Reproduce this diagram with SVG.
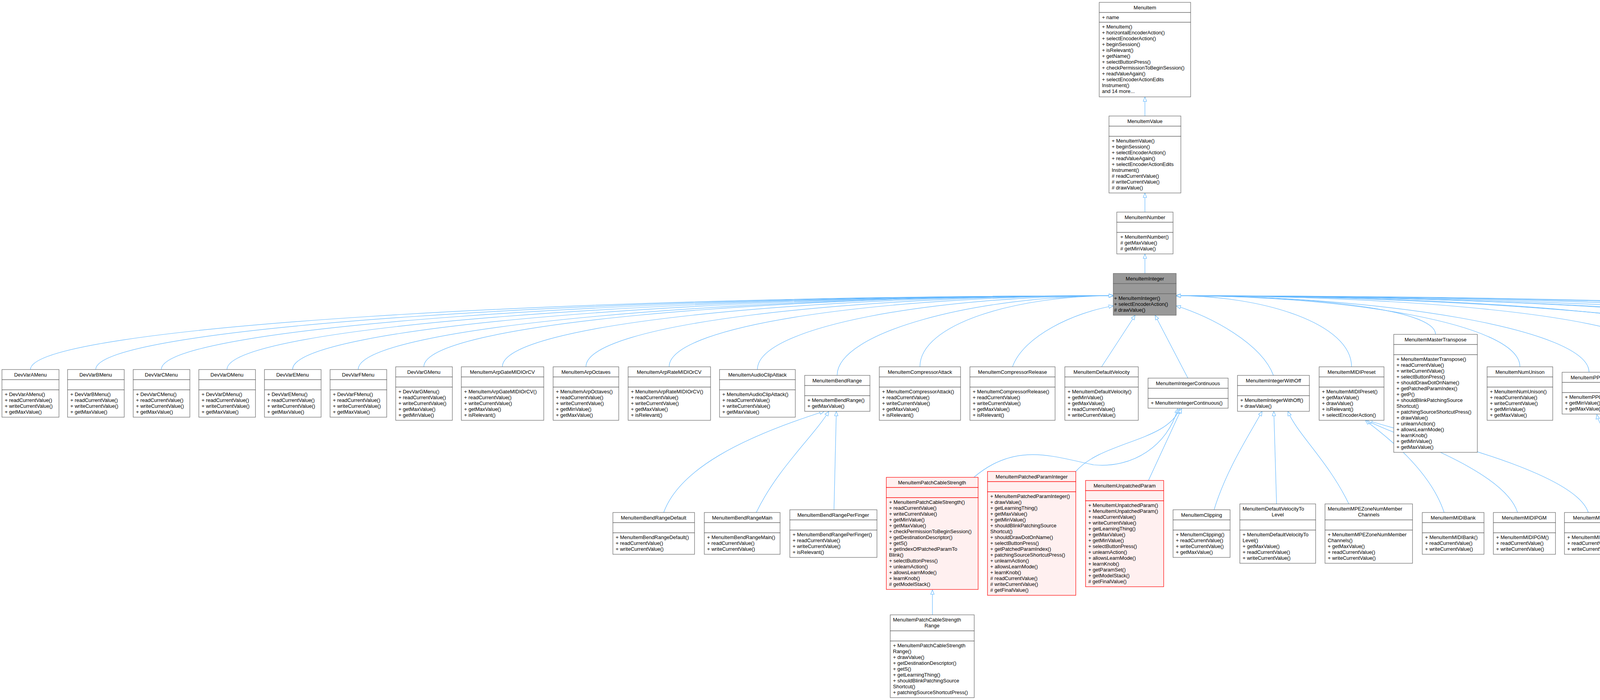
<svg xmlns="http://www.w3.org/2000/svg" width="6055" height="1792" viewBox="0 0 6055 1792">
<style>
.b{fill:#fff;stroke:#666;stroke-width:1.2}
.g{fill:#999;stroke:#666;stroke-width:1.2}
.r{fill:#fff0f0;stroke:#f00;stroke-width:1.2}
.t{font-family:"Liberation Sans",Arial,sans-serif;font-size:13px;fill:#000}
.c{text-anchor:middle}
.e{fill:none;stroke:#63b8ff;stroke-width:1.2;marker-end:url(#a)}
</style>
<defs>
<marker id="a" viewBox="0 0 12 10" markerWidth="12" markerHeight="10" refX="12" refY="5" orient="auto" markerUnits="userSpaceOnUse"><path d="M0.5,0.5 L12,5 L0.5,9.5 z" fill="#fff" stroke="#63b8ff" stroke-width="1.2"/></marker>
</defs>
<rect width="6055" height="1792" fill="#fff"/>
<g id="edges">
<path class="e" d="M2931,297 L2931,248"/>
<path class="e" d="M2931,543 L2931,494"/>
<path class="e" d="M2931,700 L2931,650"/>
<path class="e" d="M78,946 C78,836 1464,757 2850,757"/>
<path class="e" d="M245,946 C245,836 1548,757 2850,757"/>
<path class="e" d="M413,946 C413,836 1632,757 2850,757"/>
<path class="e" d="M581,946 C581,836 1716,757 2850,757"/>
<path class="e" d="M749,946 C749,836 1800,757 2850,757"/>
<path class="e" d="M917,946 C917,836 1884,757 2850,757"/>
<path class="e" d="M1085,939 C1085,829 1968,757 2850,757"/>
<path class="e" d="M1286,939 C1286,829 2068,757 2850,757"/>
<path class="e" d="M1500,939 C1500,829 2175,757 2850,757"/>
<path class="e" d="M1713,939 C1713,829 2282,757 2850,757"/>
<path class="e" d="M1939,946 C1939,836 2395,757 2850,757"/>
<path class="e" d="M2143,961 C2143,851 2497,757 2850,757"/>
<path class="e" d="M2355,939 C2355,829 2602,757 2850,757"/>
<path class="e" d="M2592,939 C2620,860 2750,800 2850,783"/>
<path class="e" d="M2820,939 L2906,807"/>
<path class="e" d="M3041,968 L2957,807"/>
<path class="e" d="M3260,961 C3230,880 3100,810 3011,783"/>
<path class="e" d="M3460,939 C3460,829 3236,757 3011,757"/>
<path class="e" d="M3675,856 C3675,790 3343,757 3011,757"/>
<path class="e" d="M3891,939 C3891,829 3451,757 3011,757"/>
<path class="e" d="M4068,953 C4068,843 3540,757 3011,757"/>
<path class="e" d="M4262,923 C4262,813 3637,757 3011,757"/>
<path class="e" d="M4490,916 C4490,806 3751,757 3011,757"/>
<path class="e" d="M4719,946 C4719,836 3865,757 3011,757"/>
<path class="e" d="M4929,931 C4929,821 3970,757 3011,757"/>
<path class="e" d="M5137,946 C5137,836 4074,757 3011,757"/>
<path class="e" d="M5350,946 C5350,836 4181,757 3011,757"/>
<path class="e" d="M5557,939 C5557,829 4284,757 3011,757"/>
<path class="e" d="M5761,923 C5761,813 4386,757 3011,757"/>
<path class="e" d="M5962,946 C5962,836 4487,757 3011,757"/>
<path class="e" d="M1699,1312 C1740,1200 1900,1120 2110,1053"/>
<path class="e" d="M1936,1312 C1990,1200 2080,1120 2122,1053"/>
<path class="e" d="M2135,1305 L2141,1053"/>
<path class="e" d="M2493,1222 C2600,1130 2700,1170 2800,1190 C2900,1200 2990,1140 3015,1046"/>
<path class="e" d="M2754,1207 C2820,1130 2990,1130 3020,1046"/>
<path class="e" d="M2940,1230 L3025,1046"/>
<path class="e" d="M3108,1305 C3140,1200 3200,1110 3231,1053"/>
<path class="e" d="M3268,1290 L3261,1053"/>
<path class="e" d="M3453,1290 C3400,1180 3320,1110 3297,1053"/>
<path class="e" d="M3697,1312 C3660,1200 3540,1110 3495,1076"/>
<path class="e" d="M3885,1312 C3850,1200 3560,1110 3498,1076"/>
<path class="e" d="M4066,1312 C4030,1200 3600,1110 3501,1076"/>
<path class="e" d="M4241,1312 C4200,1200 4100,1120 4088,1061"/>
<path class="e" d="M4469,1312 C4420,1200 4120,1120 4098,1061"/>
<path class="e" d="M2387,1574 L2387,1510"/>
</g>

<g id="MenuItem"><rect class="b" x="2814" y="6" width="234" height="26"/><rect class="b" x="2814" y="32" width="234" height="25"/><rect class="b" x="2814" y="57" width="234" height="191"/>
<text class="t c" x="2931" y="24">MenuItem</text><text class="t" x="2821" y="49">+ name</text>
<text class="t" x="2821" y="73"><tspan x="2821">+ MenuItem()</tspan><tspan x="2821" dy="15">+ horizontalEncoderAction()</tspan><tspan x="2821" dy="15">+ selectEncoderAction()</tspan><tspan x="2821" dy="15">+ beginSession()</tspan><tspan x="2821" dy="15">+ isRelevant()</tspan><tspan x="2821" dy="15">+ getName()</tspan><tspan x="2821" dy="15">+ selectButtonPress()</tspan><tspan x="2821" dy="15">+ checkPermissionToBeginSession()</tspan><tspan x="2821" dy="15">+ readValueAgain()</tspan><tspan x="2821" dy="15">+ selectEncoderActionEdits</tspan><tspan x="2821" dy="15">Instrument()</tspan><tspan x="2821" dy="15">and 14 more...</tspan></text></g>

<g id="MenuItemValue"><rect class="b" x="2839" y="297" width="184" height="26"/><rect class="b" x="2839" y="323" width="184" height="26"/><rect class="b" x="2839" y="349" width="184" height="145"/>
<text class="t c" x="2931" y="315">MenuItemValue</text>
<text class="t" x="2846" y="365"><tspan x="2846">+ MenuItemValue()</tspan><tspan x="2846" dy="15">+ beginSession()</tspan><tspan x="2846" dy="15">+ selectEncoderAction()</tspan><tspan x="2846" dy="15">+ readValueAgain()</tspan><tspan x="2846" dy="15">+ selectEncoderActionEdits</tspan><tspan x="2846" dy="15">Instrument()</tspan><tspan x="2846" dy="15"># readCurrentValue()</tspan><tspan x="2846" dy="15"># writeCurrentValue()</tspan><tspan x="2846" dy="15"># drawValue()</tspan></text></g>

<g id="MenuItemNumber"><rect class="b" x="2859" y="543" width="144" height="26"/><rect class="b" x="2859" y="569" width="144" height="26"/><rect class="b" x="2859" y="595" width="144" height="55"/>
<text class="t c" x="2931" y="561">MenuItemNumber</text>
<text class="t" x="2868" y="611"><tspan x="2868">+ MenuItemNumber()</tspan><tspan x="2868" dy="15"># getMaxValue()</tspan><tspan x="2868" dy="15"># getMinValue()</tspan></text></g>

<g id="MenuItemInteger"><rect class="g" x="2850" y="700" width="161" height="26"/><rect class="g" x="2850" y="726" width="161" height="26"/><rect class="g" x="2850" y="752" width="161" height="55"/>
<text class="t c" x="2931" y="718">MenuItemInteger</text>
<text class="t" x="2852" y="768"><tspan x="2852">+ MenuItemInteger()</tspan><tspan x="2852" dy="15">+ selectEncoderAction()</tspan><tspan x="2852" dy="15"># drawValue()</tspan></text></g>

<g id="DevVarAMenu"><rect class="b" x="5" y="946" width="146" height="26"/><rect class="b" x="5" y="972" width="146" height="26"/><rect class="b" x="5" y="998" width="146" height="70"/><text class="t c" x="78" y="964">DevVarAMenu</text><text class="t" x="12" y="1014"><tspan x="12">+ DevVarAMenu()</tspan><tspan x="12" dy="15">+ readCurrentValue()</tspan><tspan x="12" dy="15">+ writeCurrentValue()</tspan><tspan x="12" dy="15">+ getMaxValue()</tspan></text></g>
<g id="DevVarBMenu"><rect class="b" x="173" y="946" width="145" height="26"/><rect class="b" x="173" y="972" width="145" height="26"/><rect class="b" x="173" y="998" width="145" height="70"/><text class="t c" x="245" y="964">DevVarBMenu</text><text class="t" x="180" y="1014"><tspan x="180">+ DevVarBMenu()</tspan><tspan x="180" dy="15">+ readCurrentValue()</tspan><tspan x="180" dy="15">+ writeCurrentValue()</tspan><tspan x="180" dy="15">+ getMaxValue()</tspan></text></g>
<g id="DevVarCMenu"><rect class="b" x="341" y="946" width="145" height="26"/><rect class="b" x="341" y="972" width="145" height="26"/><rect class="b" x="341" y="998" width="145" height="70"/><text class="t c" x="413" y="964">DevVarCMenu</text><text class="t" x="348" y="1014"><tspan x="348">+ DevVarCMenu()</tspan><tspan x="348" dy="15">+ readCurrentValue()</tspan><tspan x="348" dy="15">+ writeCurrentValue()</tspan><tspan x="348" dy="15">+ getMaxValue()</tspan></text></g>
<g id="DevVarDMenu"><rect class="b" x="509" y="946" width="145" height="26"/><rect class="b" x="509" y="972" width="145" height="26"/><rect class="b" x="509" y="998" width="145" height="70"/><text class="t c" x="581" y="964">DevVarDMenu</text><text class="t" x="516" y="1014"><tspan x="516">+ DevVarDMenu()</tspan><tspan x="516" dy="15">+ readCurrentValue()</tspan><tspan x="516" dy="15">+ writeCurrentValue()</tspan><tspan x="516" dy="15">+ getMaxValue()</tspan></text></g>
<g id="DevVarEMenu"><rect class="b" x="677" y="946" width="145" height="26"/><rect class="b" x="677" y="972" width="145" height="26"/><rect class="b" x="677" y="998" width="145" height="70"/><text class="t c" x="749" y="964">DevVarEMenu</text><text class="t" x="684" y="1014"><tspan x="684">+ DevVarEMenu()</tspan><tspan x="684" dy="15">+ readCurrentValue()</tspan><tspan x="684" dy="15">+ writeCurrentValue()</tspan><tspan x="684" dy="15">+ getMaxValue()</tspan></text></g>
<g id="DevVarFMenu"><rect class="b" x="845" y="946" width="145" height="26"/><rect class="b" x="845" y="972" width="145" height="26"/><rect class="b" x="845" y="998" width="145" height="70"/><text class="t c" x="917" y="964">DevVarFMenu</text><text class="t" x="852" y="1014"><tspan x="852">+ DevVarFMenu()</tspan><tspan x="852" dy="15">+ readCurrentValue()</tspan><tspan x="852" dy="15">+ writeCurrentValue()</tspan><tspan x="852" dy="15">+ getMaxValue()</tspan></text></g>
<g id="DevVarGMenu"><rect class="b" x="1013" y="939" width="145" height="26"/><rect class="b" x="1013" y="965" width="145" height="26"/><rect class="b" x="1013" y="991" width="145" height="85"/><text class="t c" x="1085" y="957">DevVarGMenu</text><text class="t" x="1020" y="1007"><tspan x="1020">+ DevVarGMenu()</tspan><tspan x="1020" dy="15">+ readCurrentValue()</tspan><tspan x="1020" dy="15">+ writeCurrentValue()</tspan><tspan x="1020" dy="15">+ getMaxValue()</tspan><tspan x="1020" dy="15">+ getMinValue()</tspan></text></g>
<g id="MenuItemArpGateMIDIOrCV"><rect class="b" x="1181" y="939" width="211" height="26"/><rect class="b" x="1181" y="965" width="211" height="26"/><rect class="b" x="1181" y="991" width="211" height="85"/><text class="t c" x="1286" y="957">MenuItemArpGateMIDIOrCV</text><text class="t" x="1188" y="1007"><tspan x="1188">+ MenuItemArpGateMIDIOrCV()</tspan><tspan x="1188" dy="15">+ readCurrentValue()</tspan><tspan x="1188" dy="15">+ writeCurrentValue()</tspan><tspan x="1188" dy="15">+ getMaxValue()</tspan><tspan x="1188" dy="15">+ isRelevant()</tspan></text></g>
<g id="MenuItemArpOctaves"><rect class="b" x="1416" y="939" width="168" height="26"/><rect class="b" x="1416" y="965" width="168" height="26"/><rect class="b" x="1416" y="991" width="168" height="85"/><text class="t c" x="1500" y="957">MenuItemArpOctaves</text><text class="t" x="1423" y="1007"><tspan x="1423">+ MenuItemArpOctaves()</tspan><tspan x="1423" dy="15">+ readCurrentValue()</tspan><tspan x="1423" dy="15">+ writeCurrentValue()</tspan><tspan x="1423" dy="15">+ getMinValue()</tspan><tspan x="1423" dy="15">+ getMaxValue()</tspan></text></g>
<g id="MenuItemArpRateMIDIOrCV"><rect class="b" x="1608" y="939" width="211" height="26"/><rect class="b" x="1608" y="965" width="211" height="26"/><rect class="b" x="1608" y="991" width="211" height="85"/><text class="t c" x="1713" y="957">MenuItemArpRateMIDIOrCV</text><text class="t" x="1615" y="1007"><tspan x="1615">+ MenuItemArpRateMIDIOrCV()</tspan><tspan x="1615" dy="15">+ readCurrentValue()</tspan><tspan x="1615" dy="15">+ writeCurrentValue()</tspan><tspan x="1615" dy="15">+ getMaxValue()</tspan><tspan x="1615" dy="15">+ isRelevant()</tspan></text></g>
<g id="MenuItemAudioClipAttack"><rect class="b" x="1842" y="946" width="194" height="26"/><rect class="b" x="1842" y="972" width="194" height="26"/><rect class="b" x="1842" y="998" width="194" height="70"/><text class="t c" x="1939" y="964">MenuItemAudioClipAttack</text><text class="t" x="1849" y="1014"><tspan x="1849">+ MenuItemAudioClipAttack()</tspan><tspan x="1849" dy="15">+ readCurrentValue()</tspan><tspan x="1849" dy="15">+ writeCurrentValue()</tspan><tspan x="1849" dy="15">+ getMaxValue()</tspan></text></g>
<g id="MenuItemBendRange"><rect class="b" x="2060" y="961" width="167" height="26"/><rect class="b" x="2060" y="987" width="167" height="26"/><rect class="b" x="2060" y="1013" width="167" height="40"/><text class="t c" x="2143" y="979">MenuItemBendRange</text><text class="t" x="2067" y="1029"><tspan x="2067">+ MenuItemBendRange()</tspan><tspan x="2067" dy="15">+ getMaxValue()</tspan></text></g>
<g id="MenuItemCompressorAttack"><rect class="b" x="2251" y="939" width="208" height="26"/><rect class="b" x="2251" y="965" width="208" height="26"/><rect class="b" x="2251" y="991" width="208" height="85"/><text class="t c" x="2355" y="957">MenuItemCompressorAttack</text><text class="t" x="2258" y="1007"><tspan x="2258">+ MenuItemCompressorAttack()</tspan><tspan x="2258" dy="15">+ readCurrentValue()</tspan><tspan x="2258" dy="15">+ writeCurrentValue()</tspan><tspan x="2258" dy="15">+ getMaxValue()</tspan><tspan x="2258" dy="15">+ isRelevant()</tspan></text></g>
<g id="MenuItemCompressorRelease"><rect class="b" x="2483" y="939" width="218" height="26"/><rect class="b" x="2483" y="965" width="218" height="26"/><rect class="b" x="2483" y="991" width="218" height="85"/><text class="t c" x="2592" y="957">MenuItemCompressorRelease</text><text class="t" x="2490" y="1007"><tspan x="2490">+ MenuItemCompressorRelease()</tspan><tspan x="2490" dy="15">+ readCurrentValue()</tspan><tspan x="2490" dy="15">+ writeCurrentValue()</tspan><tspan x="2490" dy="15">+ getMaxValue()</tspan><tspan x="2490" dy="15">+ isRelevant()</tspan></text></g>
<g id="MenuItemDefaultVelocity"><rect class="b" x="2726" y="939" width="188" height="26"/><rect class="b" x="2726" y="965" width="188" height="26"/><rect class="b" x="2726" y="991" width="188" height="85"/><text class="t c" x="2820" y="957">MenuItemDefaultVelocity</text><text class="t" x="2733" y="1007"><tspan x="2733">+ MenuItemDefaultVelocity()</tspan><tspan x="2733" dy="15">+ getMinValue()</tspan><tspan x="2733" dy="15">+ getMaxValue()</tspan><tspan x="2733" dy="15">+ readCurrentValue()</tspan><tspan x="2733" dy="15">+ writeCurrentValue()</tspan></text></g>
<g id="MenuItemIntegerContinuous"><rect class="b" x="2939" y="968" width="205" height="26"/><rect class="b" x="2939" y="994" width="205" height="26"/><rect class="b" x="2939" y="1020" width="205" height="25"/><text class="t c" x="3041" y="986">MenuItemIntegerContinuous</text><text class="t" x="2946" y="1036">+ MenuItemIntegerContinuous()</text></g>
<g id="MenuItemIntegerWithOff"><rect class="b" x="3168" y="961" width="184" height="26"/><rect class="b" x="3168" y="987" width="184" height="26"/><rect class="b" x="3168" y="1013" width="184" height="40"/><text class="t c" x="3260" y="979">MenuItemIntegerWithOff</text><text class="t" x="3175" y="1029"><tspan x="3175">+ MenuItemIntegerWithOff()</tspan><tspan x="3175" dy="15">+ drawValue()</tspan></text></g>
<g id="MenuItemMIDIPreset"><rect class="b" x="3377" y="939" width="166" height="26"/><rect class="b" x="3377" y="965" width="166" height="26"/><rect class="b" x="3377" y="991" width="166" height="85"/><text class="t c" x="3460" y="957">MenuItemMIDIPreset</text><text class="t" x="3384" y="1007"><tspan x="3384">+ MenuItemMIDIPreset()</tspan><tspan x="3384" dy="15">+ getMaxValue()</tspan><tspan x="3384" dy="15">+ drawValue()</tspan><tspan x="3384" dy="15">+ isRelevant()</tspan><tspan x="3384" dy="15">+ selectEncoderAction()</tspan></text></g>
<g id="MenuItemMasterTranspose"><rect class="b" x="3568" y="856" width="214" height="26"/><rect class="b" x="3568" y="882" width="214" height="26"/><rect class="b" x="3568" y="908" width="214" height="250"/><text class="t c" x="3675" y="874">MenuItemMasterTranspose</text><text class="t" x="3575" y="924"><tspan x="3575">+ MenuItemMasterTranspose()</tspan><tspan x="3575" dy="15">+ readCurrentValue()</tspan><tspan x="3575" dy="15">+ writeCurrentValue()</tspan><tspan x="3575" dy="15">+ selectButtonPress()</tspan><tspan x="3575" dy="15">+ shouldDrawDotOnName()</tspan><tspan x="3575" dy="15">+ getPatchedParamIndex()</tspan><tspan x="3575" dy="15">+ getP()</tspan><tspan x="3575" dy="15">+ shouldBlinkPatchingSource</tspan><tspan x="3575" dy="15">Shortcut()</tspan><tspan x="3575" dy="15">+ patchingSourceShortcutPress()</tspan><tspan x="3575" dy="15">+ drawValue()</tspan><tspan x="3575" dy="15">+ unlearnAction()</tspan><tspan x="3575" dy="15">+ allowsLearnMode()</tspan><tspan x="3575" dy="15">+ learnKnob()</tspan><tspan x="3575" dy="15">+ getMinValue()</tspan><tspan x="3575" dy="15">+ getMaxValue()</tspan></text></g>
<g id="MenuItemNumUnison"><rect class="b" x="3807" y="939" width="168" height="26"/><rect class="b" x="3807" y="965" width="168" height="26"/><rect class="b" x="3807" y="991" width="168" height="85"/><text class="t c" x="3891" y="957">MenuItemNumUnison</text><text class="t" x="3814" y="1007"><tspan x="3814">+ MenuItemNumUnison()</tspan><tspan x="3814" dy="15">+ readCurrentValue()</tspan><tspan x="3814" dy="15">+ writeCurrentValue()</tspan><tspan x="3814" dy="15">+ getMinValue()</tspan><tspan x="3814" dy="15">+ getMaxValue()</tspan></text></g>
<g id="MenuItemPPQN"><rect class="b" x="3999" y="953" width="138" height="26"/><rect class="b" x="3999" y="979" width="138" height="26"/><rect class="b" x="3999" y="1005" width="138" height="55"/><text class="t c" x="4068" y="971">MenuItemPPQN</text><text class="t" x="4006" y="1021"><tspan x="4006">+ MenuItemPPQN()</tspan><tspan x="4006" dy="15">+ getMinValue()</tspan><tspan x="4006" dy="15">+ getMaxValue()</tspan></text></g>
<g id="MenuItemReverbCompressorShape"><rect class="b" x="4160" y="923" width="205" height="41"/><rect class="b" x="4160" y="964" width="205" height="26"/><rect class="b" x="4160" y="990" width="205" height="100"/><text class="t" x="4167" y="940">MenuItemReverbCompressor</text><text class="t c" x="4262" y="955">Shape</text><text class="t" x="4167" y="1006"><tspan x="4167">+ MenuItemReverbCompressor</tspan><tspan x="4167" dy="15">Shape()</tspan><tspan x="4167" dy="15">+ readCurrentValue()</tspan><tspan x="4167" dy="15">+ writeCurrentValue()</tspan><tspan x="4167" dy="15">+ getMaxValue()</tspan><tspan x="4167" dy="15">+ isRelevant()</tspan></text></g>
<g id="MenuItemReverbCompressorVolume"><rect class="b" x="4388" y="916" width="205" height="41"/><rect class="b" x="4388" y="957" width="205" height="26"/><rect class="b" x="4388" y="983" width="205" height="115"/><text class="t" x="4395" y="933">MenuItemReverbCompressor</text><text class="t c" x="4490" y="948">Volume</text><text class="t" x="4395" y="999"><tspan x="4395">+ MenuItemReverbCompressor</tspan><tspan x="4395" dy="15">Volume()</tspan><tspan x="4395" dy="15">+ readCurrentValue()</tspan><tspan x="4395" dy="15">+ writeCurrentValue()</tspan><tspan x="4395" dy="15">+ getMaxValue()</tspan><tspan x="4395" dy="15">+ getMinValue()</tspan><tspan x="4395" dy="15">+ drawValue()</tspan></text></g>
<g id="MenuItemReverbDampening"><rect class="b" x="4616" y="946" width="207" height="26"/><rect class="b" x="4616" y="972" width="207" height="26"/><rect class="b" x="4616" y="998" width="207" height="70"/><text class="t c" x="4719" y="964">MenuItemReverbDampening</text><text class="t" x="4623" y="1014"><tspan x="4623">+ MenuItemReverbDampening()</tspan><tspan x="4623" dy="15">+ readCurrentValue()</tspan><tspan x="4623" dy="15">+ writeCurrentValue()</tspan><tspan x="4623" dy="15">+ getMaxValue()</tspan></text></g>
<g id="MenuItemReverbPan"><rect class="b" x="4847" y="931" width="165" height="26"/><rect class="b" x="4847" y="957" width="165" height="26"/><rect class="b" x="4847" y="983" width="165" height="100"/><text class="t c" x="4929" y="949">MenuItemReverbPan</text><text class="t" x="4854" y="999"><tspan x="4854">+ MenuItemReverbPan()</tspan><tspan x="4854" dy="15">+ drawValue()</tspan><tspan x="4854" dy="15">+ writeCurrentValue()</tspan><tspan x="4854" dy="15">+ readCurrentValue()</tspan><tspan x="4854" dy="15">+ getMaxValue()</tspan><tspan x="4854" dy="15">+ getMinValue()</tspan></text></g>
<g id="MenuItemReverbRoomSize"><rect class="b" x="5036" y="946" width="202" height="26"/><rect class="b" x="5036" y="972" width="202" height="26"/><rect class="b" x="5036" y="998" width="202" height="70"/><text class="t c" x="5137" y="964">MenuItemReverbRoomSize</text><text class="t" x="5043" y="1014"><tspan x="5043">+ MenuItemReverbRoomSize()</tspan><tspan x="5043" dy="15">+ readCurrentValue()</tspan><tspan x="5043" dy="15">+ writeCurrentValue()</tspan><tspan x="5043" dy="15">+ getMaxValue()</tspan></text></g>
<g id="MenuItemReverbWidth"><rect class="b" x="5262" y="946" width="177" height="26"/><rect class="b" x="5262" y="972" width="177" height="26"/><rect class="b" x="5262" y="998" width="177" height="70"/><text class="t c" x="5350" y="964">MenuItemReverbWidth</text><text class="t" x="5269" y="1014"><tspan x="5269">+ MenuItemReverbWidth()</tspan><tspan x="5269" dy="15">+ readCurrentValue()</tspan><tspan x="5269" dy="15">+ writeCurrentValue()</tspan><tspan x="5269" dy="15">+ getMaxValue()</tspan></text></g>
<g id="MenuItemSidechainSend"><rect class="b" x="5464" y="939" width="187" height="26"/><rect class="b" x="5464" y="965" width="187" height="26"/><rect class="b" x="5464" y="991" width="187" height="85"/><text class="t c" x="5557" y="957">MenuItemSidechainSend</text><text class="t" x="5471" y="1007"><tspan x="5471">+ MenuItemSidechainSend()</tspan><tspan x="5471" dy="15">+ readCurrentValue()</tspan><tspan x="5471" dy="15">+ writeCurrentValue()</tspan><tspan x="5471" dy="15">+ getMaxValue()</tspan><tspan x="5471" dy="15">+ isRelevant()</tspan></text></g>
<g id="MenuItemTimeStretch"><rect class="b" x="5675" y="923" width="172" height="26"/><rect class="b" x="5675" y="949" width="172" height="26"/><rect class="b" x="5675" y="975" width="172" height="115"/><text class="t c" x="5761" y="941">MenuItemTimeStretch</text><text class="t" x="5682" y="991"><tspan x="5682">+ MenuItemTimeStretch()</tspan><tspan x="5682" dy="15">+ usesAffectEntire()</tspan><tspan x="5682" dy="15">+ readCurrentValue()</tspan><tspan x="5682" dy="15">+ writeCurrentValue()</tspan><tspan x="5682" dy="15">+ getMinValue()</tspan><tspan x="5682" dy="15">+ getMaxValue()</tspan><tspan x="5682" dy="15">+ isRelevant()</tspan></text></g>
<g id="MenuItemUnisonDetune"><rect class="b" x="5871" y="946" width="183" height="26"/><rect class="b" x="5871" y="972" width="183" height="26"/><rect class="b" x="5871" y="998" width="183" height="70"/><text class="t c" x="5962" y="964">MenuItemUnisonDetune</text><text class="t" x="5878" y="1014"><tspan x="5878">+ MenuItemUnisonDetune()</tspan><tspan x="5878" dy="15">+ readCurrentValue()</tspan><tspan x="5878" dy="15">+ writeCurrentValue()</tspan><tspan x="5878" dy="15">+ getMaxValue()</tspan></text></g>

<g id="MenuItemBendRangeDefault"><rect class="b" x="1569" y="1312" width="209" height="26"/><rect class="b" x="1569" y="1338" width="209" height="26"/><rect class="b" x="1569" y="1364" width="209" height="55"/><text class="t c" x="1673" y="1330">MenuItemBendRangeDefault</text><text class="t" x="1576" y="1380"><tspan x="1576">+ MenuItemBendRangeDefault()</tspan><tspan x="1576" dy="15">+ readCurrentValue()</tspan><tspan x="1576" dy="15">+ writeCurrentValue()</tspan></text></g>
<g id="MenuItemBendRangeMain"><rect class="b" x="1803" y="1312" width="194" height="26"/><rect class="b" x="1803" y="1338" width="194" height="26"/><rect class="b" x="1803" y="1364" width="194" height="55"/><text class="t c" x="1900" y="1330">MenuItemBendRangeMain</text><text class="t" x="1810" y="1380"><tspan x="1810">+ MenuItemBendRangeMain()</tspan><tspan x="1810" dy="15">+ readCurrentValue()</tspan><tspan x="1810" dy="15">+ writeCurrentValue()</tspan></text></g>
<g id="MenuItemBendRangePerFinger"><rect class="b" x="2022" y="1305" width="223" height="26"/><rect class="b" x="2022" y="1331" width="223" height="26"/><rect class="b" x="2022" y="1357" width="223" height="70"/><text class="t c" x="2133" y="1323">MenuItemBendRangePerFinger</text><text class="t" x="2029" y="1373"><tspan x="2029">+ MenuItemBendRangePerFinger()</tspan><tspan x="2029" dy="15">+ readCurrentValue()</tspan><tspan x="2029" dy="15">+ writeCurrentValue()</tspan><tspan x="2029" dy="15">+ isRelevant()</tspan></text></g>
<g id="MenuItemPatchCableStrength"><rect class="r" x="2269" y="1222" width="235" height="26"/><rect class="r" x="2269" y="1248" width="235" height="26"/><rect class="r" x="2269" y="1274" width="235" height="235"/><text class="t c" x="2386" y="1240">MenuItemPatchCableStrength</text><text class="t" x="2276" y="1290"><tspan x="2276">+ MenuItemPatchCableStrength()</tspan><tspan x="2276" dy="15">+ readCurrentValue()</tspan><tspan x="2276" dy="15">+ writeCurrentValue()</tspan><tspan x="2276" dy="15">+ getMinValue()</tspan><tspan x="2276" dy="15">+ getMaxValue()</tspan><tspan x="2276" dy="15">+ checkPermissionToBeginSession()</tspan><tspan x="2276" dy="15">+ getDestinationDescriptor()</tspan><tspan x="2276" dy="15">+ getS()</tspan><tspan x="2276" dy="15">+ getIndexOfPatchedParamTo</tspan><tspan x="2276" dy="15">Blink()</tspan><tspan x="2276" dy="15">+ selectButtonPress()</tspan><tspan x="2276" dy="15">+ unlearnAction()</tspan><tspan x="2276" dy="15">+ allowsLearnMode()</tspan><tspan x="2276" dy="15">+ learnKnob()</tspan><tspan x="2276" dy="15"># getModelStack()</tspan></text></g>
<g id="MenuItemPatchedParamInteger"><rect class="r" x="2528" y="1207" width="226" height="26"/><rect class="r" x="2528" y="1233" width="226" height="26"/><rect class="r" x="2528" y="1259" width="226" height="265"/><text class="t c" x="2641" y="1225">MenuItemPatchedParamInteger</text><text class="t" x="2535" y="1275"><tspan x="2535">+ MenuItemPatchedParamInteger()</tspan><tspan x="2535" dy="15">+ drawValue()</tspan><tspan x="2535" dy="15">+ getLearningThing()</tspan><tspan x="2535" dy="15">+ getMaxValue()</tspan><tspan x="2535" dy="15">+ getMinValue()</tspan><tspan x="2535" dy="15">+ shouldBlinkPatchingSource</tspan><tspan x="2535" dy="15">Shortcut()</tspan><tspan x="2535" dy="15">+ shouldDrawDotOnName()</tspan><tspan x="2535" dy="15">+ selectButtonPress()</tspan><tspan x="2535" dy="15">+ getPatchedParamIndex()</tspan><tspan x="2535" dy="15">+ patchingSourceShortcutPress()</tspan><tspan x="2535" dy="15">+ unlearnAction()</tspan><tspan x="2535" dy="15">+ allowsLearnMode()</tspan><tspan x="2535" dy="15">+ learnKnob()</tspan><tspan x="2535" dy="15"># readCurrentValue()</tspan><tspan x="2535" dy="15"># writeCurrentValue()</tspan><tspan x="2535" dy="15"># getFinalValue()</tspan></text></g>
<g id="MenuItemUnpatchedParam"><rect class="r" x="2779" y="1230" width="200" height="26"/><rect class="r" x="2779" y="1256" width="200" height="26"/><rect class="r" x="2779" y="1282" width="200" height="220"/><text class="t c" x="2879" y="1248">MenuItemUnpatchedParam</text><text class="t" x="2786" y="1298"><tspan x="2786">+ MenuItemUnpatchedParam()</tspan><tspan x="2786" dy="15">+ MenuItemUnpatchedParam()</tspan><tspan x="2786" dy="15">+ readCurrentValue()</tspan><tspan x="2786" dy="15">+ writeCurrentValue()</tspan><tspan x="2786" dy="15">+ getLearningThing()</tspan><tspan x="2786" dy="15">+ getMaxValue()</tspan><tspan x="2786" dy="15">+ getMinValue()</tspan><tspan x="2786" dy="15">+ selectButtonPress()</tspan><tspan x="2786" dy="15">+ unlearnAction()</tspan><tspan x="2786" dy="15">+ allowsLearnMode()</tspan><tspan x="2786" dy="15">+ learnKnob()</tspan><tspan x="2786" dy="15">+ getParamSet()</tspan><tspan x="2786" dy="15">+ getModelStack()</tspan><tspan x="2786" dy="15"># getFinalValue()</tspan></text></g>
<g id="MenuItemClipping"><rect class="b" x="3003" y="1305" width="146" height="26"/><rect class="b" x="3003" y="1331" width="146" height="26"/><rect class="b" x="3003" y="1357" width="146" height="70"/><text class="t c" x="3076" y="1323">MenuItemClipping</text><text class="t" x="3010" y="1373"><tspan x="3010">+ MenuItemClipping()</tspan><tspan x="3010" dy="15">+ readCurrentValue()</tspan><tspan x="3010" dy="15">+ writeCurrentValue()</tspan><tspan x="3010" dy="15">+ getMaxValue()</tspan></text></g>
<g id="MenuItemDefaultVelocityToLevel"><rect class="b" x="3174" y="1290" width="194" height="41"/><rect class="b" x="3174" y="1331" width="194" height="26"/><rect class="b" x="3174" y="1357" width="194" height="85"/><text class="t" x="3181" y="1307">MenuItemDefaultVelocityTo</text><text class="t c" x="3271" y="1322">Level</text><text class="t" x="3181" y="1373"><tspan x="3181">+ MenuItemDefaultVelocityTo</tspan><tspan x="3181" dy="15">Level()</tspan><tspan x="3181" dy="15">+ getMaxValue()</tspan><tspan x="3181" dy="15">+ readCurrentValue()</tspan><tspan x="3181" dy="15">+ writeCurrentValue()</tspan></text></g>
<g id="MenuItemMPEZoneNumMemberChannels"><rect class="b" x="3392" y="1290" width="224" height="41"/><rect class="b" x="3392" y="1331" width="224" height="26"/><rect class="b" x="3392" y="1357" width="224" height="85"/><text class="t" x="3399" y="1307">MenuItemMPEZoneNumMember</text><text class="t c" x="3504" y="1322">Channels</text><text class="t" x="3399" y="1373"><tspan x="3399">+ MenuItemMPEZoneNumMember</tspan><tspan x="3399" dy="15">Channels()</tspan><tspan x="3399" dy="15">+ getMaxValue()</tspan><tspan x="3399" dy="15">+ readCurrentValue()</tspan><tspan x="3399" dy="15">+ writeCurrentValue()</tspan></text></g>
<g id="MenuItemMIDIBank"><rect class="b" x="3641" y="1312" width="158" height="26"/><rect class="b" x="3641" y="1338" width="158" height="26"/><rect class="b" x="3641" y="1364" width="158" height="55"/><text class="t c" x="3720" y="1330">MenuItemMIDIBank</text><text class="t" x="3648" y="1380"><tspan x="3648">+ MenuItemMIDIBank()</tspan><tspan x="3648" dy="15">+ readCurrentValue()</tspan><tspan x="3648" dy="15">+ writeCurrentValue()</tspan></text></g>
<g id="MenuItemMIDIPGM"><rect class="b" x="3823" y="1312" width="159" height="26"/><rect class="b" x="3823" y="1338" width="159" height="26"/><rect class="b" x="3823" y="1364" width="159" height="55"/><text class="t c" x="3902" y="1330">MenuItemMIDIPGM</text><text class="t" x="3830" y="1380"><tspan x="3830">+ MenuItemMIDIPGM()</tspan><tspan x="3830" dy="15">+ readCurrentValue()</tspan><tspan x="3830" dy="15">+ writeCurrentValue()</tspan></text></g>
<g id="MenuItemMIDISub"><rect class="b" x="4005" y="1312" width="152" height="26"/><rect class="b" x="4005" y="1338" width="152" height="26"/><rect class="b" x="4005" y="1364" width="152" height="55"/><text class="t c" x="4081" y="1330">MenuItemMIDISub</text><text class="t" x="4012" y="1380"><tspan x="4012">+ MenuItemMIDISub()</tspan><tspan x="4012" dy="15">+ readCurrentValue()</tspan><tspan x="4012" dy="15">+ writeCurrentValue()</tspan></text></g>
<g id="MenuItemTriggerInPPQN"><rect class="b" x="4180" y="1312" width="189" height="26"/><rect class="b" x="4180" y="1338" width="189" height="26"/><rect class="b" x="4180" y="1364" width="189" height="55"/><text class="t c" x="4274" y="1330">MenuItemTriggerInPPQN</text><text class="t" x="4187" y="1380"><tspan x="4187">+ MenuItemTriggerInPPQN()</tspan><tspan x="4187" dy="15">+ readCurrentValue()</tspan><tspan x="4187" dy="15">+ writeCurrentValue()</tspan></text></g>
<g id="MenuItemTriggerOutPPQN"><rect class="b" x="4393" y="1312" width="198" height="26"/><rect class="b" x="4393" y="1338" width="198" height="26"/><rect class="b" x="4393" y="1364" width="198" height="55"/><text class="t c" x="4492" y="1330">MenuItemTriggerOutPPQN</text><text class="t" x="4400" y="1380"><tspan x="4400">+ MenuItemTriggerOutPPQN()</tspan><tspan x="4400" dy="15">+ readCurrentValue()</tspan><tspan x="4400" dy="15">+ writeCurrentValue()</tspan></text></g>
<g id="MenuItemPatchCableStrengthRange"><rect class="b" x="2279" y="1574" width="215" height="41"/><rect class="b" x="2279" y="1615" width="215" height="26"/><rect class="b" x="2279" y="1641" width="215" height="145"/><text class="t" x="2286" y="1591">MenuItemPatchCableStrength</text><text class="t c" x="2386" y="1606">Range</text><text class="t" x="2286" y="1657"><tspan x="2286">+ MenuItemPatchCableStrength</tspan><tspan x="2286" dy="15">Range()</tspan><tspan x="2286" dy="15">+ drawValue()</tspan><tspan x="2286" dy="15">+ getDestinationDescriptor()</tspan><tspan x="2286" dy="15">+ getS()</tspan><tspan x="2286" dy="15">+ getLearningThing()</tspan><tspan x="2286" dy="15">+ shouldBlinkPatchingSource</tspan><tspan x="2286" dy="15">Shortcut()</tspan><tspan x="2286" dy="15">+ patchingSourceShortcutPress()</tspan></text></g>
</svg>
